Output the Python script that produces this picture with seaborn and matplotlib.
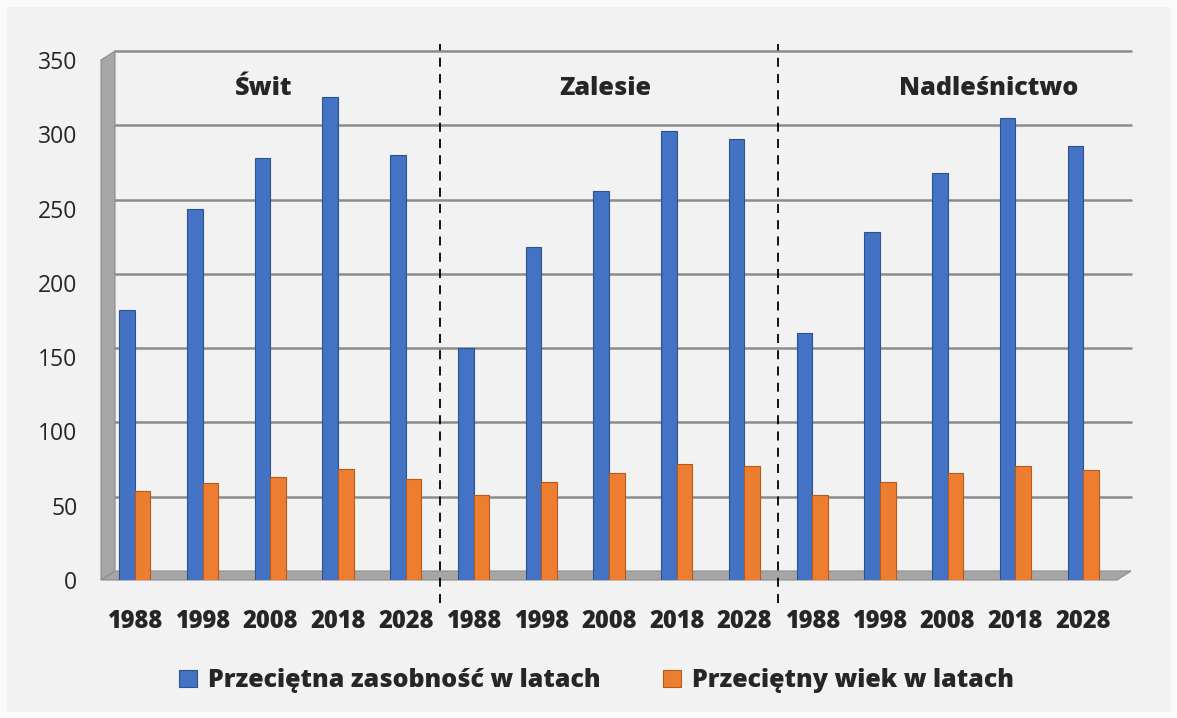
import matplotlib
matplotlib.use('Agg')
import matplotlib.pyplot as plt
import matplotlib.transforms as mtransforms
from matplotlib.patches import Polygon, Patch
import numpy as np
import pandas as pd
import seaborn as sns

groups = ['Świt', 'Zalesie', 'Nadleśnictwo']
years = ['1988', '1998', '2008', '2018', '2028']

# Przeciętna zasobność w latach
zas_swit = [182, 250, 284, 325, 286]
zas_zalesie = [156, 224, 262, 302, 297]
zas_nadl = [166, 234, 274, 311, 292]

# Przeciętny wiek w latach
wiek_swit = [60, 65, 69, 75, 68]
wiek_zalesie = [57, 66, 72, 78, 77]
wiek_nadl = [57, 66, 72, 77, 74]

series_names = ['Przeciętna zasobność w latach', 'Przeciętny wiek w latach']
colors = ['#4472C4', '#ED7D31']
edge_colors = ['#2F528F', '#B85A17']

rows = []
for g, zas, wiek in zip(groups, [zas_swit, zas_zalesie, zas_nadl], [wiek_swit, wiek_zalesie, wiek_nadl]):
    for y, z, w in zip(years, zas, wiek):
        rows.append({'slot': f'{g}_{y}', 'rok': y, 'seria': series_names[0], 'wartosc': z})
        rows.append({'slot': f'{g}_{y}', 'rok': y, 'seria': series_names[1], 'wartosc': w})
df = pd.DataFrame(rows)
slots = list(dict.fromkeys(df['slot']))

sns.set_style('white')
plt.rcParams['font.family'] = ['Open Sans', 'DejaVu Sans']
heavy = 'heavy'

fig = plt.figure(figsize=(11.77, 7.18), dpi=100)
fig.patch.set_facecolor('#F2F2F2')
fig.patch.set_edgecolor('#FAFAFA')
fig.patch.set_linewidth(8)
ax = fig.add_axes([101 / 1177, 1 - 580 / 718, 1016 / 1177, 520 / 718])
ax.set_facecolor('none')

sns.barplot(data=df, x='slot', y='wartosc', hue='seria', order=slots, hue_order=series_names,
            palette=colors, saturation=1, width=0.46, gap=0.0, legend=False, ax=ax, zorder=3)
for cont, ec in zip(ax.containers, edge_colors):
    for bar in cont:
        bar.set_edgecolor(ec)
        bar.set_linewidth(0.8)

ax.set_ylim(0, 350)
ax.set_xlim(-0.5, len(slots) - 0.5)
ax.set_yticks(np.arange(0, 351, 50))

# gridlines on the "back wall", shifted like the 3D chart
shift = mtransforms.ScaledTranslation(14 / 100, 9 / 100, fig.dpi_scale_trans)
for v in np.arange(50, 351, 50):
    ax.plot([-0.5, len(slots) - 0.5], [v, v], color='#8C8C8C', lw=1.8, zorder=1,
            transform=ax.transData + shift, clip_on=False)

# floor and left wall
dx, dy = 14 / 1016, 9 / 520
floor = Polygon([(0, 0), (1, 0), (1 + dx, dy), (dx, dy)], closed=True,
                transform=ax.transAxes, facecolor='#A6A6A6', edgecolor='#8C8C8C', lw=0.8,
                clip_on=False, zorder=2)
ax.add_patch(floor)
wall = Polygon([(0, 0), (dx, dy), (dx, 1 + dy), (0, 1.0)], closed=True,
               transform=ax.transAxes, facecolor='#A6A6A6', edgecolor='#8C8C8C', lw=0.8,
               clip_on=False, zorder=2)
ax.add_patch(wall)

for s in ['top', 'right', 'bottom', 'left']:
    ax.spines[s].set_visible(False)

ax.set_xticks(range(len(slots)))
ax.set_xticklabels(df.drop_duplicates('slot')['rok'], fontsize=17, fontweight=heavy)
ax.set_xticks(np.arange(-0.5, len(slots), 1), minor=True)
ax.tick_params(axis='x', which='major', length=0, pad=21)
ax.tick_params(axis='x', which='minor', length=12, width=1.2, color='#8C8C8C', direction='out')
ax.tick_params(axis='y', length=7, width=1.2, color='#8C8C8C', labelsize=16.5, pad=10)
ax.set_xlabel('')
ax.set_ylabel('')

# separators between groups
for xs in [4.5, 9.5]:
    ax.axvline(xs, ymin=-0.045, ymax=1.03, color='black', lw=1.3, ls=(0, (5, 4)),
               clip_on=False, zorder=4)

# group titles
title_x = [1.9, 6.95, 12.6]
for tx, g in zip(title_x, groups):
    ax.text(tx, 331, g, ha='center', va='center', fontsize=18.2, fontweight=heavy, zorder=5)

handles = [Patch(facecolor=c, edgecolor=ec, lw=0.8) for c, ec in zip(colors, edge_colors)]
fig.legend(handles, series_names, loc='center', bbox_to_anchor=(0.507, 0.052), ncol=2,
           frameon=False, prop={'size': 18, 'weight': heavy}, handlelength=0.7,
           handleheight=0.7, columnspacing=2.5, handletextpad=0.45)

fig.savefig('out.png', dpi=100, facecolor=fig.get_facecolor(), edgecolor=fig.get_edgecolor())
